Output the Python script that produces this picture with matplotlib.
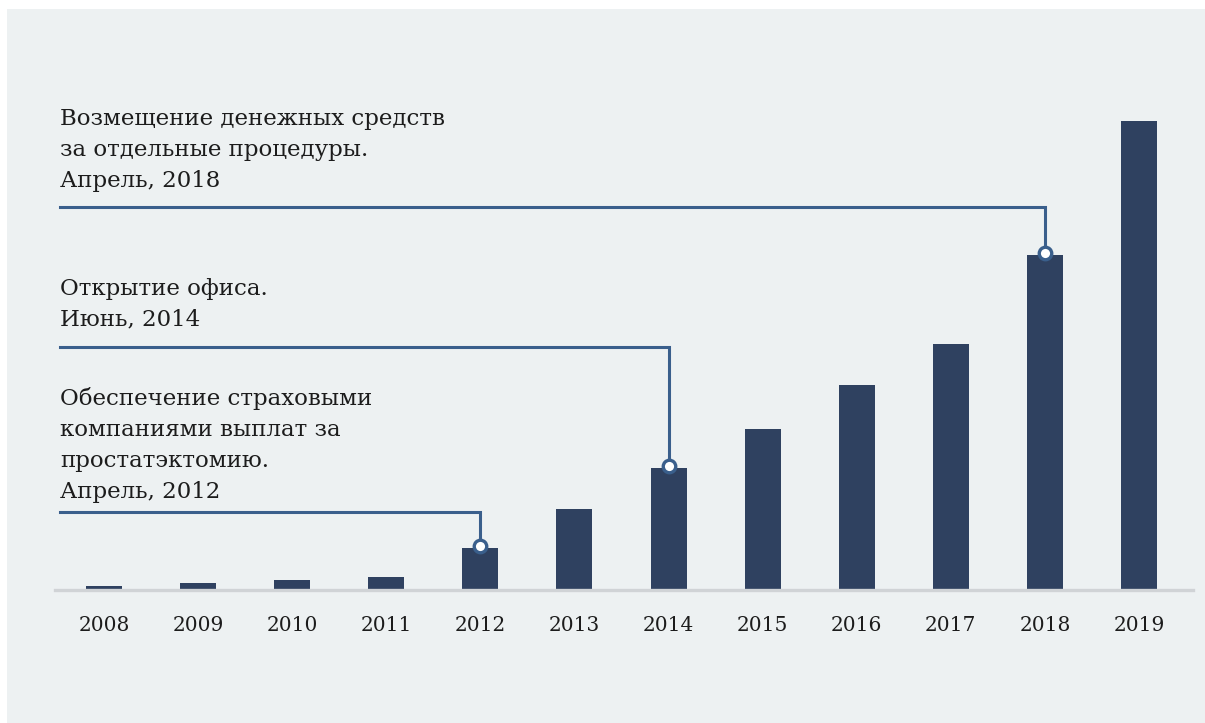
import matplotlib.pyplot as plt
from matplotlib.patches import Rectangle

years = [2008, 2009, 2010, 2011, 2012, 2013, 2014, 2015, 2016, 2017, 2018, 2019]
values = [4, 7, 10, 13, 42, 81, 122, 161, 205, 246, 335, 469]

event_years = [2018, 2014, 2012]
event_levels = [383, 243, 78]
event_texts = [
    "Возмещение денежных средств\nза отдельные процедуры.\nАпрель, 2018",
    "Открытие офиса.\nИюнь, 2014",
    "Обеспечение страховыми\nкомпаниями выплат за\nпростатэктомию.\nАпрель, 2012",
]
text_centers = [440, 286, 145]

BAR = "#2f4160"
LINE = "#3a5f8c"
BG = "#edf1f2"
INK = "#1c1c1c"
W, H = 1205, 723

fig = plt.figure(figsize=(W / 100, H / 100), dpi=100)
fig.patch.set_facecolor("white")
fig.patches.append(Rectangle((7 / W, 0), 1 - 7 / W, 1 - 9 / H,
                             transform=fig.transFigure, facecolor=BG,
                             edgecolor="none", zorder=-10))

left, right, bottom, top = 55, 1193, 590, 60
ax = fig.add_axes([left / W, (H - bottom) / H, (right - left) / W, (bottom - top) / H])
ax.set_facecolor("none")

step = (1139 - 104) / 11
ax.set_xlim(2008 - (104 - left) / step, 2019 + (right - 1139) / step)
ax.set_ylim(0, bottom - top)

ax.bar(years, values, width=36 / step, color=BAR, zorder=2)

# elbow connectors from each note down to the top of its bar
x0 = 2008 - (104 - 60) / step
for yr, lvl, txt, yc in zip(event_years, event_levels, event_texts, text_centers):
    top_val = values[years.index(yr)]
    ax.plot([x0, yr, yr], [lvl, lvl, top_val + 2], color=LINE, lw=2.2,
            solid_joinstyle="miter", zorder=3)
    ax.plot(yr, top_val + 2, "o", ms=9, mfc="white", mec=LINE, mew=2.4, zorder=4)
    ax.text(x0, yc, txt, ha="left", va="center", fontsize=16.5,
            family="DejaVu Serif", color=INK, linespacing=1.52,
            clip_on=False)

for s in ["top", "right", "left"]:
    ax.spines[s].set_visible(False)
ax.spines["bottom"].set_color("#d0d3d6")
ax.spines["bottom"].set_linewidth(2.4)
ax.set_yticks([])
ax.set_xticks(years)
ax.set_xticklabels([str(y) for y in years], family="DejaVu Serif",
                   fontsize=14.5, color=INK)
ax.tick_params(axis="x", length=0, pad=19)

fig.savefig("out.png", dpi=100, facecolor=fig.get_facecolor())
